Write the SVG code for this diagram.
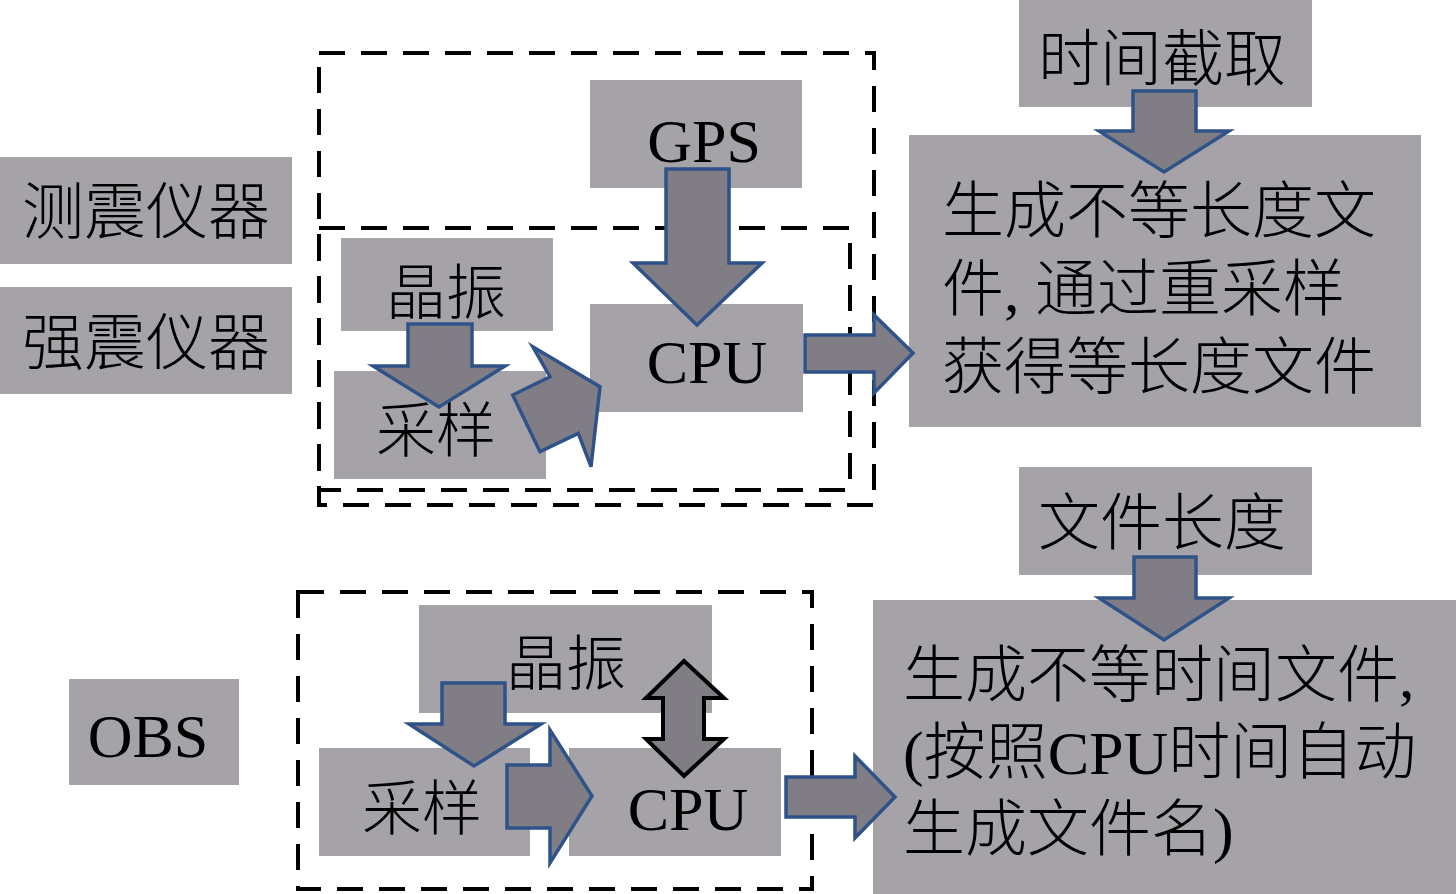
<svg xmlns="http://www.w3.org/2000/svg" width="1456" height="894" viewBox="0 0 1456 894">
<style>
.box{fill:#a5a2a8;}
.t{font-family:"Liberation Serif","Noto Sans CJK SC",serif;font-size:62px;fill:#000;}
.cjk{font-weight:300;}
.dash{fill:none;stroke:#000;stroke-width:4;stroke-dasharray:26 16;}
.arr{fill:#807e84;stroke:#2f5289;stroke-width:3.5;stroke-linejoin:miter;}
.arrk{fill:#807e84;stroke:#000;stroke-width:4;}
</style>
<rect width="1456" height="894" fill="#fff"/>
<g id="groups">
<rect class="dash" x="319" y="53" width="555" height="452"/>
<rect class="dash" x="319" y="228" width="531" height="262"/>
<rect class="dash" x="298" y="592" width="514" height="297"/>
</g>
<g id="n-cezhen"><rect class="box" x="0" y="157" width="292" height="107"/><text class="t cjk" x="22" y="234">测震仪器</text></g>
<g id="n-qiangzhen"><rect class="box" x="0" y="287" width="292" height="107"/><text class="t cjk" x="22" y="365">强震仪器</text></g>
<g id="n-gps"><rect class="box" x="590" y="80" width="212" height="108"/><text class="t" x="704" y="162" text-anchor="middle">GPS</text></g>
<g id="n-jingzhen1"><rect class="box" x="341" y="238" width="212" height="93"/><text class="t cjk" x="386" y="314" style="font-size:60px">晶振</text></g>
<g id="n-caiyang1"><rect class="box" x="334" y="371" width="212" height="108"/><text class="t cjk" x="376" y="452" style="font-size:60px">采样</text></g>
<g id="n-cpu1"><rect class="box" x="590" y="304" width="213" height="108"/><text class="t" x="707" y="383" text-anchor="middle">CPU</text></g>
<g id="n-shijian"><rect class="box" x="1019" y="0" width="293" height="107"/><text class="t cjk" x="1038" y="81">时间截取</text></g>
<g id="n-result1"><rect class="box" x="909" y="135" width="512" height="292"/>
<text class="t cjk" x="942" y="233">生成不等长度文</text>
<text class="t cjk" x="942" y="311">件, 通过重采样</text>
<text class="t cjk" x="942" y="389">获得等长度文件</text></g>
<g id="n-obs"><rect class="box" x="69" y="679" width="170" height="106"/><text class="t" x="148" y="757" text-anchor="middle">OBS</text></g>
<g id="n-jingzhen2"><rect class="box" x="419" y="605" width="293" height="108"/><text class="t cjk" x="506" y="685" style="font-size:60px">晶振</text></g>
<g id="n-caiyang2"><rect class="box" x="319" y="748" width="211" height="108"/><text class="t cjk" x="362" y="830" style="font-size:60px">采样</text></g>
<g id="n-cpu2"><rect class="box" x="569" y="748" width="212" height="108"/><text class="t" x="688" y="830" text-anchor="middle">CPU</text></g>
<g id="n-wenjian"><rect class="box" x="1019" y="467" width="293" height="108"/><text class="t cjk" x="1038" y="545">文件长度</text></g>
<g id="n-result2"><rect class="box" x="873" y="600" width="583" height="294"/>
<text class="t cjk" x="903" y="697">生成不等时间文件,</text>
<text class="t cjk" x="903" y="774">(按照CPU时间自动</text>
<text class="t cjk" x="903" y="851">生成文件名)</text></g>
<g id="connectors">
<polygon class="arr" points="666,169 729,169 729,263 762,263 697,325 633,263 666,263"/>
<polygon class="arr" points="408,324 472,324 472,366 505,366 439,407 373,366 408,366"/>
<polygon class="arr" points="532.7,346.7 600,386.7 591,466.7 578.3,433.3 540,451.7 512.7,395 550,376.7"/>
<polygon class="arr" points="805,335 874,335 874,315 913,353 874,393 874,372 805,372"/>
<polygon class="arr" points="1133,91 1196,91 1196,131 1229,131 1164,172 1099,131 1133,131"/>
<polygon class="arr" points="1134,557 1196,557 1196,598 1229,598 1164,640 1099,598 1134,598"/>
<polygon class="arr" points="442,683 505,683 505,724 541,724 474,766 409,724 442,724"/>
<polygon class="arr" points="507,765 550,765 550,730 592,796 550,863 550,828 507,828"/>
<polygon class="arrk" points="684,661 724,698 704,698 704,739 724,739 684,776 646,739 663,739 663,698 646,698"/>
<polygon class="arr" points="786,777 855,777 855,756 895,797 855,838 855,817 786,817"/>
</g>
</svg>
